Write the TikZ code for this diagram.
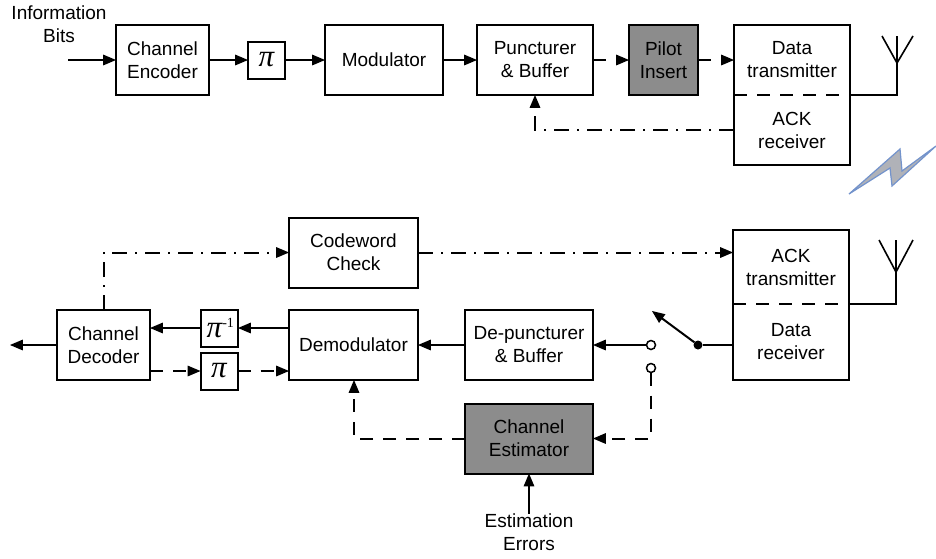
\documentclass[tikz,border=0pt]{standalone}
\usepackage{fontspec}
\setmainfont{Liberation Sans}
\newfontfamily\pifont{Liberation Serif}
\usepackage{amsmath}
\usetikzlibrary{arrows,positioning}
\definecolor{shade}{HTML}{8C8C8C}
\definecolor{boltline}{HTML}{7393CC}
\definecolor{boltfill}{HTML}{B0B2B8}

\begin{document}
\begin{tikzpicture}[x=1pt,y=-1pt,->,>=triangle 45,line width=2pt,
	every node/.style={font=\fontsize{19}{23}\selectfont,align=center,outer sep=0pt,inner sep=0pt},
	block/.style={draw,-,minimum height=70pt},
	half/.style={minimum width=116pt},
	grayblock/.style={block,fill=shade},
	perm/.style={draw,minimum width=37pt,minimum height=37pt,font=\fontsize{31}{31}\pifont\itshape},
	port/.style={draw,circle,fill=white,minimum size=9pt,line width=1.5pt},
	hub/.style={circle,fill=black,minimum size=9pt},
	dashline/.style={dash pattern=on 13pt off 10pt},
	ackline/.style={dash pattern=on 15pt off 8pt on 2pt off 8pt}]
	\useasboundingbox (0,0) rectangle (936,558);

	\node					(infobits)	at (59,24)						{Information\\Bits};
	\coordinate				(infoin)	at (68,60);
	\node[block,minimum width=93pt]		(encoder)	at (162.5,60)			{Channel\\Encoder};
	\node[perm]				(pitx)		[right=39pt of encoder]				{π};
	\node[block,minimum width=118pt]	(modulator)	[right=40pt of pitx]		{Modulator};
	\node[block,minimum width=116pt]	(puncturer)	[right=34pt of modulator]	{Puncturer\\\& Buffer};
	\node[grayblock,minimum width=69pt]	(pilot)		[right=36pt of puncturer]	{Pilot\\Insert};
	\node[half,minimum height=70pt]		(datatx)	[right=36pt of pilot]		{Data\\transmitter};
	\node[half,minimum height=70pt]		(ackrx)		[below=0pt of datatx]		{ACK\\receiver};

	\node[block,minimum width=129pt]	(codeword)	at (353.5,252.5)		{Codeword\\Check};
	\node[half,minimum height=74pt]		(acktx)		at (791,267)			{ACK\\transmitter};
	\node[half,minimum height=76pt]		(datarx)	[below=0pt of acktx]		{Data\\receiver};
	\node[block,minimum width=93pt]		(decoder)	at (103.5,345)			{Channel\\Decoder};
	\node[perm]				(piinv)		at (219.5,328)					{\hspace{-10pt}π\rlap{\raisebox{10pt}{\fontsize{14}{14}\selectfont\upshape -1}}};
	\node[perm]				(pirx)		at (219,371)					{π};
	\node[block,minimum width=129pt]	(demod)		at (353.5,345)			{Demodulator};
	\node[block,minimum width=128pt]	(depunct)	at (529,345)			{De-puncturer\\\& Buffer};
	\node[grayblock,minimum width=128pt]	(estimator)	at (529,438.5)		{Channel\\Estimator};
	\node					(esterr)	at (529,532)					{Estimation\\Errors};
	\node[port]				(porta)		at (651,345)					{};
	\node[port]				(portb)		at (651,368)					{};
	\node[hub]				(pivot)		at (698,345)					{};
	\coordinate				(swtip)		at (652,311);
	\coordinate				(out)		at (10,345);
	\coordinate				(anttx)		at (897,63);
	\coordinate				(antrx)		at (896,272);

	\draw[-] (datatx.north west) rectangle (ackrx.south east);
	\draw[-] (acktx.north west) rectangle (datarx.south east);
	\draw[-,dashline] (datatx.south west) -- (datatx.south east);
	\draw[-,dashline] (acktx.south west) -- (acktx.south east);

	\path
		(infoin)	edge						(encoder)
		(encoder)	edge						(pitx)
		(pitx)		edge						(modulator)
		(modulator)	edge						(puncturer)
		(puncturer)	edge	[dashline]				(pilot)
		(pilot)		edge	[dashline]				(datatx)
		(demod.west |- piinv)	edge				(piinv)
		(piinv)		edge						(decoder.east |- piinv)
		(decoder.east |- pirx)	edge	[dashline]		(pirx)
		(pirx)		edge	[dashline]				(demod.west |- pirx)
		(decoder)	edge						(out)
		(depunct)	edge						(demod)
		(porta)		edge						(depunct)
		(datarx.west |- pivot)	edge	[-]			(pivot)
		(pivot)		edge						(swtip)
		(codeword)	edge	[ackline]				(acktx.west |- codeword)
		(esterr)	edge						(estimator)
	;
	\draw[ackline] (ackrx.west) -| (puncturer.south);
	\draw[ackline] (decoder.north) |- (codeword.west);
	\draw[dashline] (portb.south) |- (estimator.east);
	\draw[dashline] (estimator.west) -| (demod.south -| 354,0);

	\draw[-] (datatx.south east) -| (anttx);
	\draw[-,line width=1.6pt] (882,36) -- (anttx) -- (913,36) (anttx) -- (897,36);
	\draw[-] (acktx.south east) -| (antrx);
	\draw[-,line width=1.6pt] (879,240) -- (antrx) -- (913,240) (antrx) -- (896,240);

	\draw[-,draw=boltline,fill=boltfill,line width=1.2pt] (849,194) -- (900,149) -- (902,171) -- (936,146) -- (892,186) -- (890,168) -- cycle;
\end{tikzpicture}
\end{document}
